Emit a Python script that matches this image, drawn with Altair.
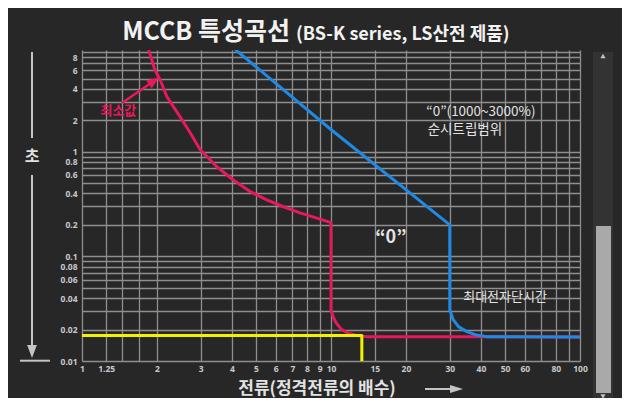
import altair as alt
import pandas as pd

# ---- data (x: multiple of rated current, y: seconds) ----
red_x = [1.855, 1.96, 2.06, 2.19, 2.47, 2.72, 2.98, 3.47, 4.04, 4.73, 5.52, 6.41, 7.51, 8.77, 10.0,
         10.0, 10.2, 10.5, 11.0, 11.7, 12.7, 13.9, 100]
red_y = [9.4, 6.09, 4.89, 3.38, 2.18, 1.52, 1.05, 0.723, 0.54, 0.417, 0.347, 0.30, 0.261, 0.232, 0.21,
         0.0308, 0.0265, 0.0230, 0.0201, 0.0184, 0.0175, 0.0171, 0.0170]

blue_x = [4.15, 9.91, 30.0, 30.0, 31.0, 32.5, 35.1, 38.4, 42.2, 100]
blue_y = [9.4, 1.66, 0.2, 0.0308, 0.0247, 0.0213, 0.0191, 0.0177, 0.0171, 0.0170]

yellow_x = [1, 13.3, 13.3]
yellow_y = [0.0175, 0.0175, 0.01]

x_grid = [1, 1.25, 1.45, 1.7, 2, 3, 4, 5, 6, 7, 8, 9, 10, 15, 20, 30, 40, 50, 60, 70, 80, 90, 100]
x_labels = [1, 1.25, 2, 3, 4, 5, 6, 7, 8, 9, 10, 15, 20, 30, 40, 50, 60, 80, 100]
y_grid = [0.01, 0.02, 0.03, 0.04, 0.05, 0.06, 0.07, 0.08, 0.09,
          0.1, 0.2, 0.3, 0.4, 0.5, 0.6, 0.7, 0.8, 0.9,
          1, 2, 3, 4, 5, 6, 7, 8, 9]
y_labels = [0.01, 0.02, 0.04, 0.06, 0.08, 0.1, 0.2, 0.4, 0.6, 0.8, 1, 2, 4, 6, 8]

title_main = "MCCB 특성곡선"
title_sub = "(BS-K series, LS산전 제품)"
x_title = "전류(정격전류의 배수)"
y_title = "초"

# annotations anchored in data coordinates
ann_inst1 = {"x": 40.0, "y": 2.41, "t": "\u201c0\u201d(1000~3000%)"}
ann_inst2 = {"x": 34.5, "y": 1.62, "t": "순시트립범위"}
ann_zero = {"x": 17.4, "y": 0.150, "t": "\u201c0\u201d"}
ann_max = {"x": 50.0, "y": 0.041, "t": "최대전자단시간"}
ann_min = {"x": 1.40, "y": 2.46, "t": "최소값"}

# ---- styling ----
BG = "#272727"
FONT = "Noto Sans CJK KR"
RED = "#e8195a"
BLUE = "#1e8ae6"
YELLOW = "#f2f200"
TXT = "#e2e2e2"

def lbl_expr(vals):
    arr = ",".join(repr(v) for v in vals)
    return f"indexof([{arr}], datum.value) >= 0 ? datum.value + '' : ''"

xsc = alt.Scale(type="log", domain=[1, 100], nice=False)
ysc = alt.Scale(type="log", domain=[0.01, 9.4], nice=False)
xaxis = alt.Axis(values=x_grid, labelExpr=lbl_expr(x_labels), title=None, ticks=False, domain=False,
                 grid=True, gridColor="#8e8e8e", gridWidth=1.3, labelColor="#c8c8cc",
                 labelFontSize=8.5, labelFontWeight="bold", labelFont="Noto Sans", labelPadding=3,
                 labelOverlap=False, labelFlush=False)
yaxis = alt.Axis(values=y_grid, labelExpr=lbl_expr(y_labels), title=None, ticks=False, domain=False,
                 grid=True, gridColor="#8e8e8e", gridWidth=1.3, labelColor="#c8c8cc",
                 labelFontSize=8.5, labelFontWeight="bold", labelFont="Noto Sans", labelPadding=5,
                 labelOverlap=False, labelFlush=False)
X = alt.X("x:Q", scale=xsc, axis=xaxis)
Y = alt.Y("y:Q", scale=ysc, axis=yaxis)

def series(xs, ys):
    return pd.DataFrame({"x": xs, "y": ys, "i": list(range(len(xs)))})

one = pd.DataFrame({"a": [0]})

def curve(xs, ys, color, width=3):
    return alt.Chart(series(xs, ys)).mark_line(color=color, strokeWidth=width, clip=True,
                                               strokeJoin="round", strokeCap="round").encode(
        x=X, y=Y, order="i:Q")

red = curve(red_x, red_y, RED)
blue = curve(blue_x, blue_y, BLUE)
yellow = curve(yellow_x, yellow_y, YELLOW)

def ann(d, size, color=TXT, weight="normal", align="center"):
    return alt.Chart(pd.DataFrame([d])).mark_text(fontSize=size, color=color, font=FONT,
                                                  fontWeight=weight, align=align,
                                                  baseline="middle").encode(
        x=X, y=Y, text="t:N")

a1 = ann(ann_inst1, 13.5)
a2 = ann(ann_inst2, 13.5)
a3 = ann(ann_zero, 18, weight="bold")
a4 = ann(ann_max, 13)
a5 = ann(ann_min, 13, color=RED, weight="bold")

# pointer arrow from the "최소값" label to the curve (pixel offsets from plot origin)
arr_line = alt.Chart(one).mark_rule(color=RED, strokeWidth=2.5, opacity=1).encode(
    x=alt.value(40), x2=alt.value(69), y=alt.value(53), y2=alt.value(33))
arr_head = alt.Chart(one).mark_point(
    shape="M0,-1 L0.8,1 L-0.8,1 Z", filled=True, size=150, color=RED, opacity=1, angle=56
).encode(x=alt.value(72), y=alt.value(31))

# ---- titles & decorations (pixel offsets from plot origin) ----
t1 = alt.Chart(one).mark_text(text=title_main, font=FONT, fontSize=25, fontWeight="bold",
                              color="#f2f2f2", align="right", baseline="alphabetic").encode(
    x=alt.value(208), y=alt.value(-10))
t2 = alt.Chart(one).mark_text(text=title_sub, font=FONT, fontSize=18, fontWeight="bold",
                              color="#f2f2f2", align="left", baseline="alphabetic").encode(
    x=alt.value(214), y=alt.value(-10))

DEC = "#c4c4c4"
yl1 = alt.Chart(one).mark_rule(color=DEC, strokeWidth=2).encode(
    x=alt.value(-50), y=alt.value(2), y2=alt.value(88))
yl2 = alt.Chart(one).mark_rule(color=DEC, strokeWidth=2).encode(
    x=alt.value(-50), y=alt.value(125), y2=alt.value(296))
yhead = alt.Chart(one).mark_point(shape="M-0.75,-1 L0.75,-1 L0,1 Z", filled=True, size=169,
                                  color=DEC, opacity=1).encode(x=alt.value(-50), y=alt.value(301.5))
ybar = alt.Chart(one).mark_rule(color=DEC, strokeWidth=2).encode(
    x=alt.value(-62), x2=alt.value(-32), y=alt.value(310.7))
ytxt = alt.Chart(one).mark_text(text=y_title, font=FONT, fontSize=16, fontWeight="bold",
                                color=TXT, baseline="middle").encode(x=alt.value(-50), y=alt.value(107))

xtxt = alt.Chart(one).mark_text(text=x_title, font=FONT, fontSize=17, fontWeight="bold",
                                color=TXT, baseline="middle").encode(x=alt.value(235), y=alt.value(338.5))
xl = alt.Chart(one).mark_rule(color=DEC, strokeWidth=2).encode(
    x=alt.value(343), x2=alt.value(370), y=alt.value(339))
xhead = alt.Chart(one).mark_point(shape="M-1,-0.6 L1,0 L-1,0.6 Z", filled=True, size=169,
                                  color=DEC, opacity=1).encode(x=alt.value(374.5), y=alt.value(339))

track = alt.Chart(one).mark_rect(color="#333333").encode(
    x=alt.value(511), x2=alt.value(531), y=alt.value(2), y2=alt.value(348))
thumb = alt.Chart(one).mark_rect(color="#a9a9a9").encode(
    x=alt.value(514), x2=alt.value(529), y=alt.value(176), y2=alt.value(343))
up = alt.Chart(one).mark_point(shape="triangle-up", filled=True, size=28, color="#c0c0c0",
                               opacity=1).encode(x=alt.value(521), y=alt.value(6))
down = alt.Chart(one).mark_point(shape="triangle-down", filled=True, size=28, color="#c0c0c0",
                                 opacity=1).encode(x=alt.value(521), y=alt.value(346.5))

chart = alt.layer(
    red, blue, yellow, a1, a2, a3, a4, a5,
    t1, t2, yl1, yl2, yhead, ybar, ytxt, xtxt, xl, xhead, track, thumb, up, down,
    arr_line, arr_head
).properties(
    width=498, height=311,
    autosize=alt.AutoSizeParams(type="none"),
    padding={"left": 74, "top": 42, "right": 42, "bottom": 37},
    background=BG,
).configure_view(stroke=None)

chart.save("out.html", embed_options={"renderer": "svg", "actions": False})
